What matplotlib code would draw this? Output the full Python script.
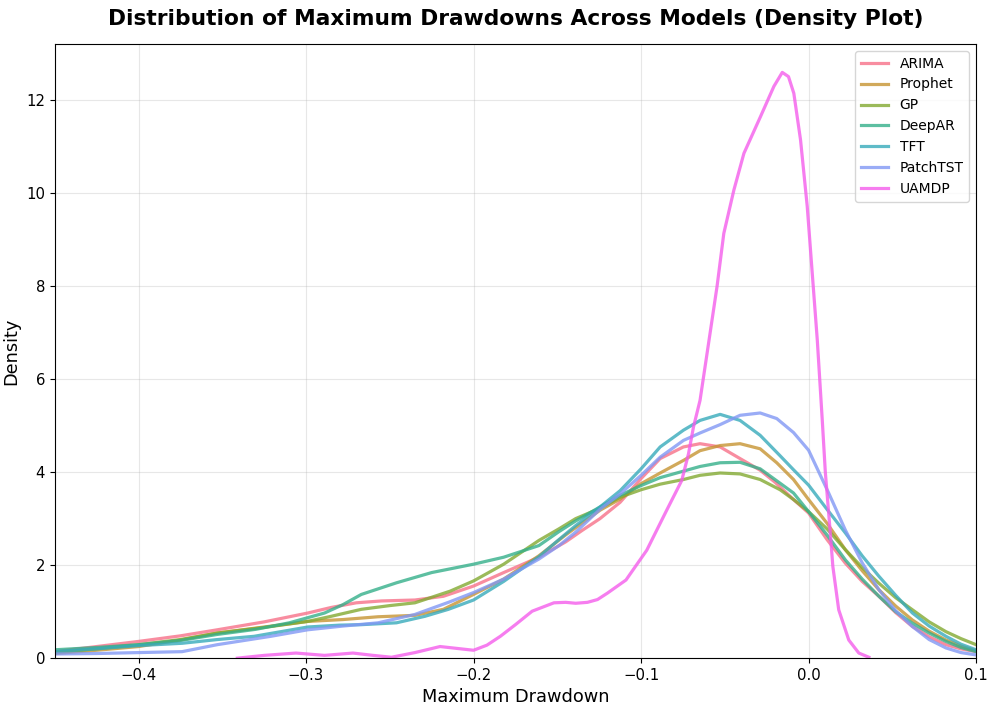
import matplotlib
matplotlib.use("Agg")
import matplotlib.pyplot as plt
import seaborn as sns

# density curves (x = max drawdown, y = density)
models = ['ARIMA', 'Prophet', 'GP', 'DeepAR', 'TFT', 'PatchTST', 'UAMDP']

arima_x = [-0.45, -0.425, -0.4, -0.375, -0.353, -0.325, -0.299, -0.285, -0.27, -0.255, -0.235, -0.218,
           -0.2, -0.182, -0.161, -0.145, -0.135, -0.1245, -0.1125, -0.1, -0.0886, -0.0747, -0.0648,
           -0.0528, -0.0409, -0.0289, -0.02, -0.009, 0.0, 0.011, 0.022, 0.032, 0.042, 0.052, 0.062,
           0.072, 0.082, 0.091, 0.1]
arima_y = [0.14, 0.25, 0.36, 0.48, 0.61, 0.78, 0.97, 1.09, 1.19, 1.23, 1.25, 1.33,
           1.55, 1.84, 2.17, 2.5, 2.75, 3.0, 3.35, 3.86, 4.29, 4.54, 4.61,
           4.54, 4.29, 4.04, 3.78, 3.41, 3.12, 2.55, 2.04, 1.65, 1.33, 0.98, 0.68,
           0.46, 0.29, 0.2, 0.14]

prophet_x = [-0.45, -0.425, -0.4, -0.375, -0.353, -0.325, -0.299, -0.278, -0.257, -0.235, -0.218, -0.2,
             -0.182, -0.161, -0.145, -0.1245, -0.1125, -0.1, -0.0886, -0.0747, -0.0648, -0.0528,
             -0.0409, -0.0289, -0.019, -0.009, 0.0, 0.011, 0.022, 0.032, 0.042, 0.052, 0.062, 0.072,
             0.082, 0.091, 0.1]
prophet_y = [0.1, 0.17, 0.25, 0.39, 0.54, 0.67, 0.79, 0.83, 0.89, 0.92, 1.05, 1.37,
             1.7, 2.2, 2.65, 3.18, 3.42, 3.75, 3.98, 4.25, 4.46, 4.57,
             4.61, 4.5, 4.2, 3.84, 3.41, 2.9, 2.33, 1.88, 1.47, 1.12, 0.82, 0.58,
             0.39, 0.26, 0.16]

gp_x = [-0.45, -0.425, -0.4, -0.375, -0.353, -0.325, -0.299, -0.285, -0.267, -0.25, -0.235, -0.214,
        -0.2, -0.182, -0.161, -0.149, -0.139, -0.1245, -0.1125, -0.1, -0.0886, -0.0747, -0.0648,
        -0.0528, -0.0409, -0.0289, -0.017, -0.009, 0.0, 0.011, 0.022, 0.032, 0.042, 0.052, 0.062,
        0.072, 0.082, 0.091, 0.1]
gp_y = [0.12, 0.2, 0.29, 0.4, 0.54, 0.66, 0.79, 0.9, 1.05, 1.13, 1.19, 1.44,
        1.66, 2.02, 2.53, 2.78, 3.0, 3.22, 3.46, 3.62, 3.74, 3.84, 3.93,
        3.98, 3.96, 3.84, 3.62, 3.41, 3.15, 2.78, 2.33, 1.95, 1.61, 1.3, 1.04,
        0.78, 0.57, 0.42, 0.29]

deepar_x = [-0.45, -0.425, -0.4, -0.375, -0.353, -0.33, -0.31, -0.289, -0.278, -0.267, -0.246, -0.225,
            -0.2, -0.182, -0.161, -0.149, -0.139, -0.1245, -0.1125, -0.1, -0.0886, -0.0747, -0.0648,
            -0.0528, -0.0409, -0.0289, -0.017, -0.009, 0.0, 0.011, 0.022, 0.032, 0.042, 0.052, 0.062,
            0.072, 0.082, 0.091, 0.1]
deepar_y = [0.18, 0.23, 0.29, 0.38, 0.51, 0.62, 0.76, 0.97, 1.15, 1.37, 1.62, 1.84,
            2.02, 2.17, 2.42, 2.72, 2.95, 3.25, 3.5, 3.71, 3.88, 4.02, 4.12,
            4.2, 4.21, 4.07, 3.76, 3.55, 3.15, 2.65, 2.11, 1.7, 1.33, 1.0, 0.75,
            0.54, 0.36, 0.23, 0.14]

tft_x = [-0.45, -0.425, -0.4, -0.374, -0.353, -0.331, -0.315, -0.299, -0.28, -0.267, -0.246, -0.229,
         -0.215, -0.2, -0.182, -0.161, -0.149, -0.139, -0.1245, -0.1125, -0.1, -0.0886, -0.0747,
         -0.0648, -0.0528, -0.0409, -0.0289, -0.017, -0.009, 0.0, 0.011, 0.022, 0.032, 0.042, 0.052,
         0.062, 0.072, 0.082, 0.091, 0.1]
tft_y = [0.14, 0.2, 0.27, 0.32, 0.4, 0.47, 0.57, 0.67, 0.71, 0.72, 0.76, 0.9,
         1.05, 1.25, 1.65, 2.18, 2.55, 2.85, 3.25, 3.6, 4.07, 4.54, 4.9,
         5.11, 5.24, 5.11, 4.79, 4.35, 4.05, 3.72, 3.2, 2.69, 2.2, 1.76, 1.35,
         0.97, 0.69, 0.47, 0.3, 0.18]

patch_x = [-0.45, -0.425, -0.4, -0.374, -0.353, -0.337, -0.321, -0.299, -0.278, -0.257, -0.235, -0.215,
           -0.2, -0.182, -0.161, -0.149, -0.139, -0.1245, -0.1125, -0.1, -0.0886, -0.0747, -0.0648,
           -0.0528, -0.0409, -0.0289, -0.019, -0.009, 0.0, 0.012, 0.022, 0.032, 0.042, 0.052, 0.062,
           0.072, 0.082, 0.091, 0.1]
patch_y = [0.09, 0.1, 0.12, 0.14, 0.29, 0.38, 0.47, 0.61, 0.69, 0.76, 0.94, 1.2,
           1.41, 1.7, 2.13, 2.42, 2.71, 3.2, 3.53, 3.93, 4.32, 4.68, 4.84,
           5.02, 5.22, 5.27, 5.15, 4.85, 4.47, 3.55, 2.75, 2.05, 1.47, 1.02, 0.68,
           0.4, 0.22, 0.12, 0.07]

uamdp_x = [-0.341, -0.325, -0.306, -0.289, -0.272, -0.26, -0.249, -0.235, -0.22, -0.21, -0.2, -0.192,
           -0.184, -0.175, -0.165, -0.152, -0.145, -0.139, -0.132, -0.126, -0.12, -0.109, -0.0966,
           -0.0847, -0.0757, -0.0717, -0.0687, -0.0648, -0.0606, -0.0546, -0.0506, -0.0446, -0.0386,
           -0.0287, -0.0207, -0.0157, -0.012, -0.0088, -0.0048, -0.0008, 0.0022, 0.0052, 0.0082,
           0.01, 0.0125, 0.0145, 0.018, 0.024, 0.03, 0.036]
uamdp_y = [0.0, 0.06, 0.11, 0.06, 0.11, 0.06, 0.02, 0.12, 0.25, 0.21, 0.17, 0.28,
           0.47, 0.72, 1.01, 1.19, 1.2, 1.18, 1.2, 1.26, 1.4, 1.68, 2.32,
           3.18, 3.82, 4.39, 4.97, 5.54, 6.55, 8.0, 9.13, 10.06, 10.85,
           11.64, 12.29, 12.59, 12.5, 12.14, 11.14, 9.71, 8.27, 6.84, 5.1,
           4.0, 2.9, 1.97, 1.04, 0.39, 0.11, 0.02]

curves = [(arima_x, arima_y), (prophet_x, prophet_y), (gp_x, gp_y), (deepar_x, deepar_y),
          (tft_x, tft_y), (patch_x, patch_y), (uamdp_x, uamdp_y)]

colors = sns.color_palette("husl", len(models))

fig, ax = plt.subplots(figsize=(9.96, 7.1), dpi=100)
for name, (xs, ys), c in zip(models, curves, colors):
    ax.plot(xs, ys, color=c, lw=2.3, alpha=0.8, label=name, solid_joinstyle='round')

ax.set_xlim(-0.45, 0.1)
ax.set_ylim(0, 13.2)
ax.set_title('Distribution of Maximum Drawdowns Across Models (Density Plot)',
             fontsize=15.7, fontweight='bold', pad=14)
ax.set_xlabel('Maximum Drawdown', fontsize=12.8)
ax.set_ylabel('Density', fontsize=12.8)
ax.tick_params(labelsize=10.7)
ax.grid(True, alpha=0.3)
ax.legend(loc='upper right', fontsize=10)

plt.subplots_adjust(left=0.055, right=0.98, top=0.938, bottom=0.073)
plt.savefig('out.png', dpi=100)
